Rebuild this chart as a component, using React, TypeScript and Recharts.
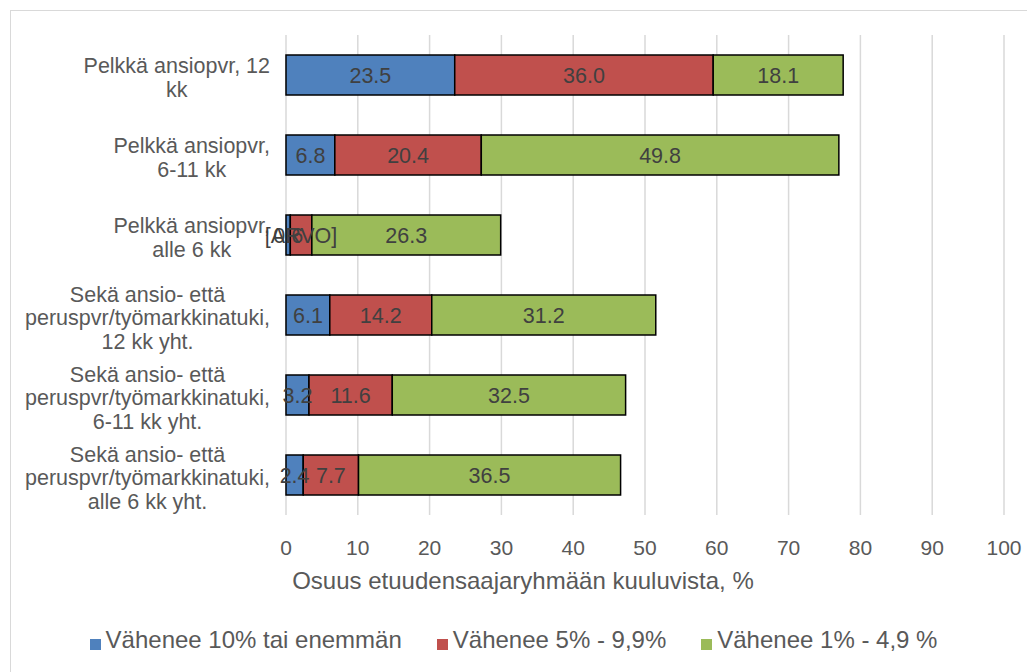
import React from 'react';
import {
  BarChart,
  Bar,
  XAxis,
  YAxis,
  CartesianGrid,
  Legend,
  LabelList,
  Label,
} from 'recharts';

const categories = [
  'Pelkkä ansiopvr, 12 kk',
  'Pelkkä ansiopvr, 6-11 kk',
  'Pelkkä ansiopvr, alle 6 kk',
  'Sekä ansio- että peruspvr/työmarkkinatuki, 12 kk yht.',
  'Sekä ansio- että peruspvr/työmarkkinatuki, 6-11 kk yht.',
  'Sekä ansio- että peruspvr/työmarkkinatuki, alle 6 kk yht.',
];
// same labels, wrapped as in the original
const categoryLines = [
  ['Pelkkä ansiopvr, 12', 'kk'],
  ['Pelkkä ansiopvr,', '6-11 kk'],
  ['Pelkkä ansiopvr,', 'alle 6 kk'],
  ['Sekä ansio- että', 'peruspvr/työmarkkinatuki,', '12 kk yht.'],
  ['Sekä ansio- että', 'peruspvr/työmarkkinatuki,', '6-11 kk yht.'],
  ['Sekä ansio- että', 'peruspvr/työmarkkinatuki,', 'alle 6 kk yht.'],
];

const over10 = [23.5, 6.8, 0.6, 6.1, 3.2, 2.4];
const from5 = [36.0, 20.4, 3.0, 14.2, 11.6, 7.7];
const from1 = [18.1, 49.8, 26.3, 31.2, 32.5, 36.5];
// Excel left a placeholder label on one red segment
const from5Labels = ['36.0', '20.4', '[ARVO]', '14.2', '11.6', '7.7'];

const seriesNames = ['Vähenee 10% tai enemmän', 'Vähenee 5% - 9,9%', 'Vähenee 1% - 4,9 %'];
const seriesColors = ['#4F81BD', '#C0504D', '#9BBB59'];

const xTicks = [0, 10, 20, 30, 40, 50, 60, 70, 80, 90, 100];

const FONT = "'Liberation Sans', Arial, sans-serif";
const TEXT = '#595959';

const data = categories.map((name, i) => ({
  name,
  over10: over10[i],
  from5: from5[i],
  from1: from1[i],
  from5Label: from5Labels[i],
}));

let canvas: HTMLCanvasElement | null = null;
function textWidth(s: string, size: number) {
  if (!canvas) canvas = document.createElement('canvas');
  const ctx = canvas.getContext('2d')!;
  ctx.font = `${size}px ${FONT}`;
  return ctx.measureText(s).width;
}

function CategoryTick(props: any) {
  const { x, y, index } = props;
  const lines = categoryLines[index] || [];
  const size = 21.5;
  const w = Math.max(...lines.map((l) => textWidth(l, size)));
  const cx = x - 8 - w / 2;
  const lh = 23.5;
  const top = y + 3 - ((lines.length - 1) * lh) / 2;
  return (
    <text
      x={cx}
      y={top}
      textAnchor="middle"
      fill={TEXT}
      fontSize={size}
      fontFamily={FONT}
      dominantBaseline="central"
    >
      {lines.map((l, i) => (
        <tspan key={i} x={cx} y={top + i * lh}>
          {l}
        </tspan>
      ))}
    </text>
  );
}

function ValueTick(props: any) {
  const { x, y, payload } = props;
  return (
    <text
      x={x}
      y={y + 32}
      textAnchor="middle"
      dominantBaseline="central"
      fill={TEXT}
      fontSize={21}
      fontFamily={FONT}
    >
      {payload.value}
    </text>
  );
}

function AxisTitle(props: any) {
  const { viewBox } = props;
  return (
    <text
      x={viewBox.x - 122 + viewBox.width / 2}
      y={viewBox.y + 65}
      textAnchor="middle"
      dominantBaseline="central"
      fill={TEXT}
      fontSize={24}
      fontFamily={FONT}
    >
      Osuus etuudensaajaryhmään kuuluvista, %
    </text>
  );
}

function LegendContent() {
  return (
    <div
      style={{
        display: 'flex',
        justifyContent: 'center',
        alignItems: 'center',
        gap: 35,
        fontFamily: FONT,
        fontSize: 24,
        color: TEXT,
      }}
    >
      {seriesNames.map((n, i) => (
        <span key={n} style={{ display: 'inline-flex', alignItems: 'center' }}>
          <span
            style={{
              display: 'inline-block',
              width: 11,
              height: 11,
              marginTop: 8,
              marginRight: 5,
              background: seriesColors[i],
            }}
          />
          {n}
        </span>
      ))}
    </div>
  );
}

const labelProps = {
  position: 'center' as const,
  fill: '#404040',
  fontSize: 21.5,
  fontFamily: FONT,
};

export default function App() {
  return (
    <div
      style={{
        position: 'absolute',
        left: 0,
        top: 0,
        width: 1027,
        height: 672,
        overflow: 'hidden',
        background: '#fff',
      }}
    >
      <div
        style={{
          position: 'absolute',
          left: 10,
          top: 10,
          width: 1100,
          height: 800,
          border: '1px solid #d9d9d9',
        }}
      />
      <BarChart
        width={1027}
        height={672}
        data={data}
        layout="vertical"
        barCategoryGap="25%"
        margin={{ top: 35, right: 23, bottom: 97, left: 9 }}
        style={{ position: 'absolute', left: 0, top: 0 }}
      >
        <CartesianGrid horizontal={false} stroke="#d9d9d9" strokeWidth={1.5} />
        <XAxis
          type="number"
          domain={[0, 100]}
          ticks={xTicks}
          interval={0}
          axisLine={false}
          tickLine={false}
          tickSize={0}
          tickMargin={0}
          height={60}
          tick={<ValueTick />}
        >
          <Label content={<AxisTitle />} />
        </XAxis>
        <YAxis
          type="category"
          dataKey="name"
          width={277}
          axisLine={false}
          tickLine={false}
          tick={<CategoryTick />}
          interval={0}
        />
        <Legend
          verticalAlign="middle"
          align="center"
          content={<LegendContent />}
          wrapperStyle={{ position: 'absolute', top: 626, left: 0, width: 1027, paddingRight: 26 }}
        />
        <Bar
          dataKey="over10"
          name={seriesNames[0]}
          stackId="a"
          fill={seriesColors[0]}
          stroke="#000"
          strokeWidth={1.5}
          isAnimationActive={false}
        >
          <LabelList dataKey="over10" {...labelProps} formatter={(v: any) => Number(v).toFixed(1)} />
        </Bar>
        <Bar
          dataKey="from5"
          name={seriesNames[1]}
          stackId="a"
          fill={seriesColors[1]}
          stroke="#000"
          strokeWidth={1.5}
          isAnimationActive={false}
        >
          <LabelList dataKey="from5Label" {...labelProps} />
        </Bar>
        <Bar
          dataKey="from1"
          name={seriesNames[2]}
          stackId="a"
          fill={seriesColors[2]}
          stroke="#000"
          strokeWidth={1.5}
          isAnimationActive={false}
        >
          <LabelList dataKey="from1" {...labelProps} formatter={(v: any) => Number(v).toFixed(1)} />
        </Bar>
      </BarChart>
    </div>
  );
}
